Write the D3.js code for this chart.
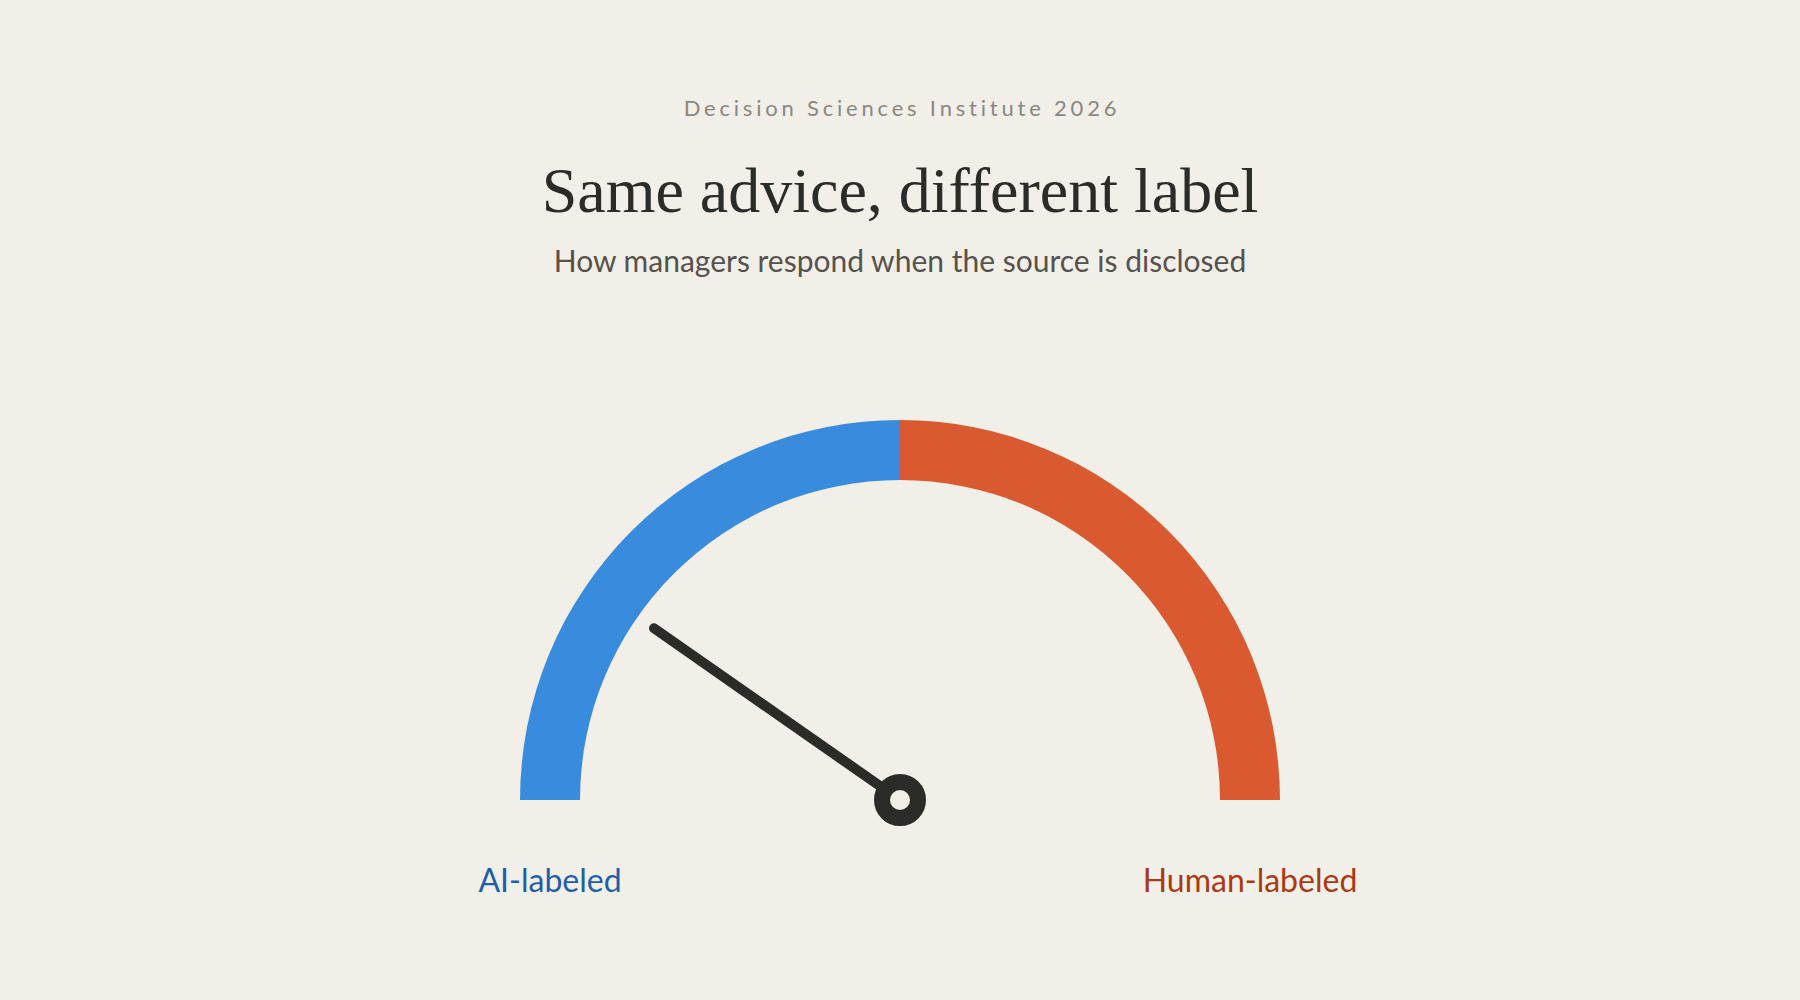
<!DOCTYPE html>
<html>
<head>
<meta charset="utf-8">
<script src="https://cdn.jsdelivr.net/npm/d3@7"></script>
<style>
  html, body { margin: 0; padding: 0; background: #f2efe8; }
  svg { display: block; }
</style>
</head>
<body>
<div id="chart"></div>
<script>
// gauge data
const segmentLabels = ["AI-labeled", "Human-labeled"];
const segmentStarts = [0, 50];
const segmentEnds = [50, 100];
const gaugeDomain = [0, 100];
const needleValue = 19.4;

const width = 1800, height = 1000;
const cx = 900, cy = 800;
const outerR = 380, innerR = 320;

const bg = "#f2efe8";
const ink = "#2b2b28";
const segmentColors = ["#398bde", "#d95a30"];
const labelColors = ["#1f5fa8", "#a83a15"];

const svg = d3.select("#chart").append("svg")
  .attr("width", width)
  .attr("height", height)
  .attr("viewBox", [0, 0, width, height]);

svg.append("rect").attr("width", width).attr("height", height).attr("fill", bg);

// titles
svg.append("text")
  .attr("x", cx + 2).attr("y", 116)
  .attr("text-anchor", "middle")
  .attr("font-family", "Lato")
  .attr("font-size", 22)
  .attr("letter-spacing", 3.8)
  .attr("fill", "#8a8780")
  .text("Decision Sciences Institute 2026");

svg.append("text")
  .attr("x", cx).attr("y", 212)
  .attr("text-anchor", "middle")
  .attr("font-family", "Liberation Serif, serif")
  .attr("font-size", 64)
  .attr("fill", ink)
  .text("Same advice, different label");

svg.append("text")
  .attr("x", cx).attr("y", 272)
  .attr("text-anchor", "middle")
  .attr("font-family", "Lato")
  .attr("font-size", 30)
  .attr("fill", "#55524d")
  .text("How managers respond when the source is disclosed");

// gauge
const angle = d3.scaleLinear()
  .domain(gaugeDomain)
  .range([-Math.PI / 2, Math.PI / 2]);

const arc = d3.arc()
  .innerRadius(innerR)
  .outerRadius(outerR);

const gauge = svg.append("g").attr("transform", `translate(${cx},${cy})`);

gauge.selectAll("path.seg")
  .data(segmentLabels)
  .join("path")
  .attr("class", "seg")
  .attr("d", (d, i) => arc({ startAngle: angle(segmentStarts[i]), endAngle: angle(segmentEnds[i]) }))
  .attr("fill", (d, i) => segmentColors[i]);

// labels under each arc end
const labelR = (innerR + outerR) / 2;
gauge.selectAll("text.lbl")
  .data(segmentLabels)
  .join("text")
  .attr("class", "lbl")
  .attr("x", (d, i) => labelR * Math.sin(angle(i === 0 ? segmentStarts[i] : segmentEnds[i])))
  .attr("y", 92)
  .attr("text-anchor", "middle")
  .attr("font-family", "Lato")
  .attr("font-size", 32)
  .attr("fill", (d, i) => labelColors[i])
  .text(d => d);

// needle
const needleLen = 300;
const a = angle(needleValue);
gauge.append("line")
  .attr("x1", 0).attr("y1", 0)
  .attr("x2", needleLen * Math.sin(a))
  .attr("y2", -needleLen * Math.cos(a))
  .attr("stroke", ink)
  .attr("stroke-width", 10)
  .attr("stroke-linecap", "round");

gauge.append("circle")
  .attr("r", 18)
  .attr("fill", bg)
  .attr("stroke", ink)
  .attr("stroke-width", 16);
</script>
</body>
</html>
